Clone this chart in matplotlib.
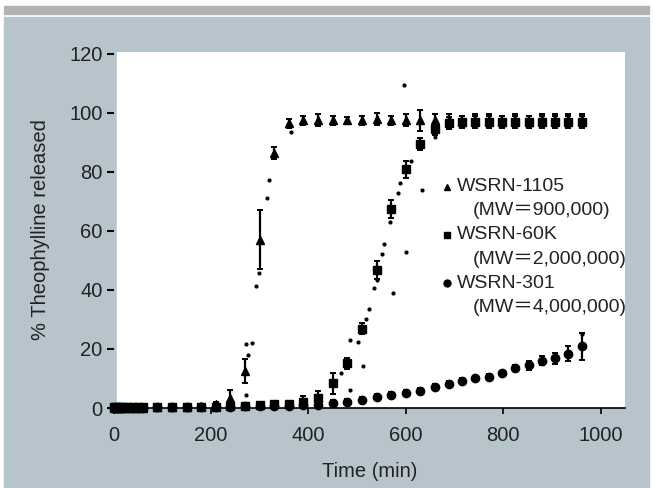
import matplotlib.pyplot as plt
from matplotlib.patches import Rectangle
import numpy as np

plt.rcParams['font.family'] = ['Liberation Sans', 'Noto Sans CJK JP']

# sampling times (min)
time_min = [0, 5, 10, 15, 20, 30, 40, 50, 60,
            90, 120, 150, 180, 210, 240, 270, 300, 330, 360,
            390, 420, 450, 480, 510, 540, 570, 600, 630, 660,
            688, 715, 742, 770, 797, 825, 852, 879, 907, 934, 961]

# WSRN-1105 (MW=900,000)
rel_1105 = [0, 0, 0, 0, 0, 0, 0, 0, 0,
            0.3, 0.3, 0.5, 0.6, 1.2, 3.5, 12.5, 57, 86.5, 96.5,
            97.5, 97.5, 97.5, 97.5, 97.5, 98.0, 97.5, 97.5, 97.5, 97.5,
            97.5, 97.0, 97.5, 97.5, 97.0, 97.5, 97.0, 97.5, 97.5, 97.5, 97.5]
err_1105 = [0.5, 0.5, 0.5, 0.5, 0.5, 0.5, 0.5, 0.5, 0.5,
            0.5, 0.5, 0.5, 0.8, 1, 2.5, 4, 10, 2, 1.5,
            1.5, 2, 1.5, 1, 1.5, 2, 1.5, 2, 3.5, 2,
            2, 2, 2, 2, 2, 2, 2, 2, 2, 2, 2]

# WSRN-60K (MW=2,000,000)
rel_60k = [0.2, 0.2, 0.2, 0.2, 0.2, 0.2, 0.2, 0.2, 0.2,
           0.3, 0.3, 0.4, 0.4, 0.5, 0.6, 0.8, 1.0, 1.2, 1.5,
           2.0, 3.3, 8.3, 15.1, 26.9, 46.8, 67.3, 80.8, 89.5, 94.5,
           96.5, 97, 97, 97, 97, 97, 97, 97, 97, 97, 97]
err_60k = [0.3, 0.3, 0.3, 0.3, 0.3, 0.3, 0.3, 0.3, 0.3,
           0.3, 0.3, 0.3, 0.3, 0.3, 0.5, 0.5, 0.5, 0.5, 1,
           2, 2.5, 3.5, 2, 2, 3, 3, 3, 2, 2,
           2, 2, 2, 2, 2, 2, 2, 2, 2, 2, 2]

# WSRN-301 (MW=4,000,000)
rel_301 = [0, 0, 0, 0, 0, 0, 0, 0, 0,
           0.3, 0.3, 0.4, 0.4, 0.5, 0.5, 0.6, 0.6, 0.7, 0.8,
           0.9, 1.0, 1.8, 2.1, 2.7, 3.8, 4.4, 5.0, 5.9, 7.0,
           8.1, 9.2, 10.0, 10.6, 11.7, 13.4, 14.5, 16.0, 16.8, 18.4, 20.9]
err_301 = [0.3, 0.3, 0.3, 0.3, 0.3, 0.3, 0.3, 0.3, 0.3,
           0.3, 0.3, 0.3, 0.3, 0.3, 0.3, 0.3, 0.3, 0.3, 0.3,
           0.5, 0.5, 1, 1, 1, 1, 1, 1, 1, 1,
           1, 1, 1, 1, 1, 1, 1.5, 1.5, 2, 2.5, 4.5]

# individual replicate points scattered around the means
rep_t = [271, 285, 276, 271, 293, 298, 315, 320, 365,
         466, 485, 502, 513, 486, 518, 524, 534, 540, 551, 556,
         574, 568, 584, 589, 601, 611, 633, 660, 596, 961]
rep_y = [21.6, 21.9, 17.9, 4.3, 41.4, 45.8, 71, 77.4, 93.6,
         11.7, 23.2, 22.4, 14.1, 6.0, 30.3, 33.4, 40.5, 43.3, 52.1, 55.7,
         39.0, 63.1, 72.9, 76.1, 52.9, 83.7, 73.8, 91.9, 109.3, 25.2]

series_names = ['WSRN-1105', 'WSRN-60K', 'WSRN-301']
series_mw = ['(MW＝900,000)', '(MW＝2,000,000)', '(MW＝4,000,000)']

W, H = 653, 488
fig = plt.figure(figsize=(W / 100, H / 100), dpi=100, facecolor='white')

# background panel and top bar
fig.add_artist(Rectangle((4 / W, 0), 645 / W, (H - 17) / H,
                         transform=fig.transFigure, color='#b7c4cb', zorder=-10))
fig.add_artist(Rectangle((4 / W, (H - 14) / H), 645 / W, 8 / H,
                         transform=fig.transFigure, color='#b3b3b3', zorder=-10))

ax = fig.add_axes([113.5 / W, (H - 408) / H, (625 - 113.5) / W, (408 - 52) / H])
ax.set_facecolor('none')
ax.set_xlim(0, 1050)
ax.set_ylim(0, 120.6)
ax.axvspan(7, 1050, color='white', zorder=0)

kw = dict(color='black', ls='none', ms=6, elinewidth=1.6, capsize=2.5,
          capthick=1.4, clip_on=False, zorder=3)
ax.errorbar(time_min, rel_301, yerr=err_301, marker='o', **kw)
ax.errorbar(time_min, rel_60k, yerr=err_60k, marker='s', **kw)
ax.errorbar(time_min, rel_1105, yerr=err_1105, marker='^', **kw)
ax.plot(rep_t, rep_y, 'o', color='black', ms=2, clip_on=False, zorder=3)

for sp in ['top', 'right', 'left']:
    ax.spines[sp].set_visible(False)
ax.spines['bottom'].set_linewidth(1.2)
ax.set_xticks(np.arange(0, 1001, 200))
ax.set_yticks(np.arange(0, 121, 20))
ax.tick_params(axis='x', direction='out', length=4, width=1.2, labelsize=14.5,
               pad=9, colors='black', labelcolor='#222222')
ax.tick_params(axis='y', direction='out', length=5, width=1.5, labelsize=14.5,
               pad=3, colors='black', labelcolor='#222222')
ax.set_xlabel('Time (min)', fontsize=14.5, color='#222222', labelpad=12)
ax.set_ylabel('% Theophylline released', fontsize=14.5, color='#222222', labelpad=14)

# legend drawn as text
markers = ['^', 's', 'o']
ys = [0.621, 0.486, 0.351]
for m, name, mw, y in zip(markers, series_names, series_mw, ys):
    ax.plot([0.652], [y], marker=m, color='black', ms=5, transform=ax.transAxes,
            clip_on=False)
    ax.text(0.671, y, name, transform=ax.transAxes, fontsize=14, va='center',
            color='#222222')
    ax.text(0.703, y - 0.0675, mw, transform=ax.transAxes, fontsize=14,
            va='center', color='#222222')

fig.savefig('out.png', dpi=100)
